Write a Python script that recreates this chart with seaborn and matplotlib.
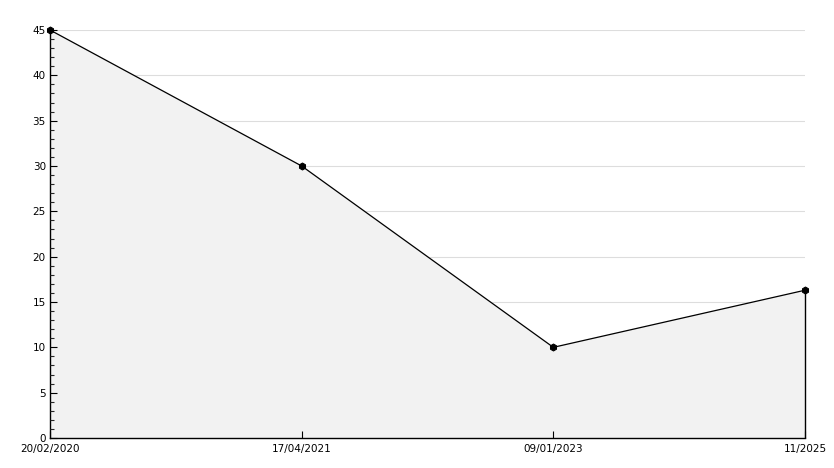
import matplotlib
matplotlib.use('Agg')
import matplotlib.pyplot as plt
import seaborn as sns
import numpy as np
import pandas as pd
from matplotlib.ticker import MultipleLocator

# Данные графика
dates = ['20/02/2020', '17/04/2021', '09/01/2023', '11/2025']
values = [45, 30, 10, 16.3]

sns.set_style('white')
plt.rcParams['font.family'] = ['DejaVu Sans']

df = pd.DataFrame({'pos': np.arange(len(dates)), 'value': values})

fig = plt.figure(figsize=(8.34, 4.68), dpi=100)
ax = fig.add_axes([50 / 834, 30 / 468, 755 / 834, 408 / 468])

ax.set_xlim(0, len(dates) - 1)
ax.set_ylim(0, 45)
ax.set_xticks(df['pos'])
ax.set_xticklabels(dates)
ax.yaxis.set_major_locator(MultipleLocator(5))
ax.yaxis.set_minor_locator(MultipleLocator(1))

# сетка под заливкой, засечки поверх неё
ax.grid(False)
ax.set_axisbelow(False)
grid_y = [t for t in ax.get_yticks() if 0 < t <= 45]
ax.hlines(grid_y, 0, len(dates) - 1, color='#dddddd', linewidth=0.8, zorder=0)

ax.fill_between(df['pos'], df['value'], 0, color='#f2f2f2', zorder=1)
sns.lineplot(x='pos', y='value', data=df, ax=ax, color='black', linewidth=0.9,
             marker='h', markersize=5, markeredgecolor='black', zorder=3, clip_on=False)
ax.vlines(df['pos'].iloc[-1], 0, df['value'].iloc[-1], color='black', linewidth=1,
          zorder=3, clip_on=False)

ax.tick_params(axis='both', which='both', bottom=True, left=True, top=False, right=False)
ax.tick_params(axis='both', which='major', direction='in', length=5, width=0.8,
               labelsize=7.5, colors='black', pad=3)
ax.tick_params(axis='y', which='minor', direction='in', length=3, width=0.8)
ax.tick_params(axis='x', which='major', pad=4)

for side in ['top', 'right']:
    ax.spines[side].set_visible(False)
for side in ['left', 'bottom']:
    ax.spines[side].set_color('black')
    ax.spines[side].set_linewidth(1)

ax.set_xlabel('')
ax.set_ylabel('')

fig.savefig('out.png', dpi=100)
